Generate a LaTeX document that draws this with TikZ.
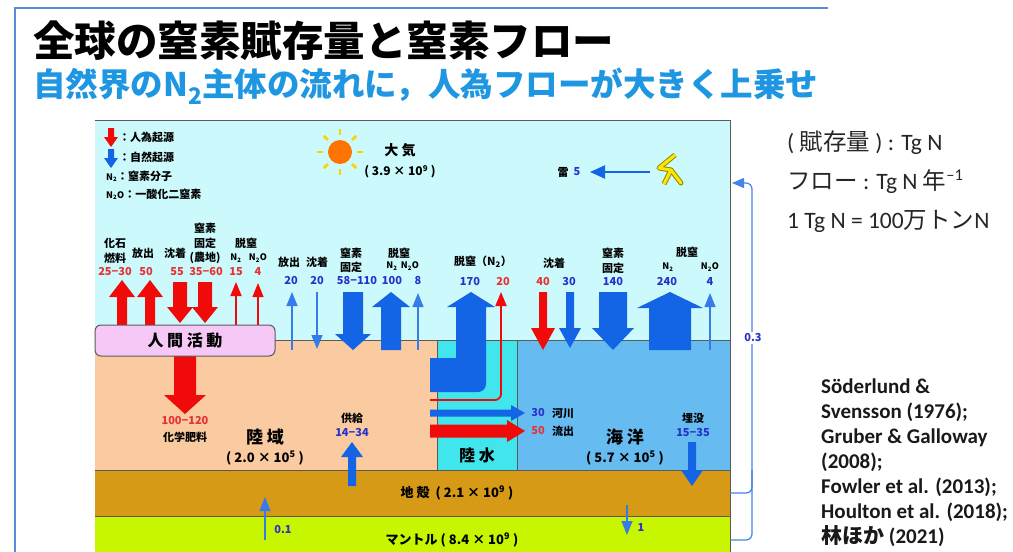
\documentclass[tikz,border=0pt]{standalone}
\usepackage{fontspec}
\setmainfont{Carlito}
\newfontfamily\jp{Noto Sans CJK JP}
\usetikzlibrary{arrows.meta}

\definecolor{airbg}{RGB}{204,250,252}
\definecolor{landbg}{RGB}{250,202,160}
\definecolor{lakebg}{RGB}{64,230,235}
\definecolor{seabg}{RGB}{102,187,240}
\definecolor{crustbg}{RGB}{214,154,22}
\definecolor{mantlebg}{RGB}{200,245,0}
\definecolor{humred}{RGB}{240,10,10}
\definecolor{natblue}{RGB}{20,100,230}
\definecolor{numblue}{RGB}{40,50,200}
\definecolor{numred}{RGB}{230,50,50}
\definecolor{framebl}{RGB}{90,140,215}
\definecolor{subbl}{RGB}{30,150,225}
\definecolor{humpink}{RGB}{245,200,245}
\definecolor{edgegray}{RGB}{90,90,90}

% block arrows: colour, x, tail y, tip y, half shaft, half head, head length
\newcommand{\flowup}[7]{\fill[#1] (#2-#5,#3) -- (#2-#5,#4+#7) -- (#2-#6,#4+#7) -- (#2,#4) -- (#2+#6,#4+#7) -- (#2+#5,#4+#7) -- (#2+#5,#3) -- cycle;}
\newcommand{\flowdown}[7]{\fill[#1] (#2-#5,#3) -- (#2-#5,#4-#7) -- (#2-#6,#4-#7) -- (#2,#4) -- (#2+#6,#4-#7) -- (#2+#5,#4-#7) -- (#2+#5,#3) -- cycle;}
% colour, y, tail x, tip x, half shaft, half head, head length
\newcommand{\flowright}[7]{\fill[#1] (#3,#2-#5) -- (#4-#7,#2-#5) -- (#4-#7,#2-#6) -- (#4,#2) -- (#4-#7,#2+#6) -- (#4-#7,#2+#5) -- (#3,#2+#5) -- cycle;}

\begin{document}
\begin{tikzpicture}[x=1pt,y=-1pt,
    lbl/.style={font=\jp\bfseries\fontsize{11}{12}\selectfont, inner sep=0pt},
    redval/.style={lbl, text=numred},
    blueval/.style={lbl, text=numblue},
    stock/.style={font=\jp\bfseries\fontsize{17}{18}\selectfont, inner sep=0pt},
    stockval/.style={font=\jp\bfseries\fontsize{13}{14}\selectfont, inner sep=0pt},
    thinred/.style={humred, line width=1.6pt, -{Triangle[width=11pt,length=14pt]}},
    thinblue/.style={natblue!85, line width=1.4pt, -{Triangle[width=11pt,length=14pt]}},
    side/.style={anchor=west, inner sep=0pt, text=black!85, font=\fontsize{23.5}{26}\selectfont}]
\useasboundingbox (0,0) rectangle (1013,552);
\fill[white] (0,0) rectangle (1013,552);

% frame and headings
\draw[framebl, line width=1.5pt] (15,552) -- (15,8) -- (828,8);
\node (title) at (33,41) [anchor=west, inner sep=0pt, font=\jp\bfseries\fontsize{41.5}{44}\selectfont] {全球の窒素賦存量と窒素フロー};
\node (subtitle) at (33,86) [anchor=west, inner sep=0pt, text=subbl, font=\jp\bfseries\fontsize{32.5}{34}\selectfont] {自然界のN\textsubscript{2}主体の流れに，人為フローが大きく上乗せ};

% reservoirs
\fill[airbg] (95,120) rectangle (730,340);
\fill[landbg] (95,340) rectangle (437,470);
\fill[lakebg] (437,340) rectangle (517,470);
\fill[seabg] (517,340) rectangle (730,470);
\fill[crustbg] (95,470) rectangle (730,516);
\fill[mantlebg] (95,516) rectangle (730,552);
\draw[edgegray, line width=0.8pt] (95,120) -- (730,120) -- (730,552);
\draw[edgegray, line width=0.8pt] (95,340) -- (730,340);
\draw[edgegray, line width=0.8pt] (95,470) -- (730,470);
\draw[edgegray, line width=0.8pt] (95,516) -- (730,516);
\draw[edgegray, line width=0.8pt] (437,340) -- (437,470);
\draw[edgegray, line width=0.8pt] (517,340) -- (517,470);

% legend
\flowdown{humred}{111}{128}{147}{3}{7}{10}
\flowdown{natblue}{111}{149}{168}{3}{7}{10}
\node (leghum) at (119,137) [lbl, anchor=west] {：人為起源};
\node (legnat) at (119,157) [lbl, anchor=west] {：自然起源};
\node (legn2) at (106,176) [lbl, anchor=west] {\fontsize{9}{10}\selectfont N\textsubscript{2}\fontsize{11}{12}\selectfont：窒素分子};
\node (legn2o) at (106,194) [lbl, anchor=west] {\fontsize{9}{10}\selectfont N\textsubscript{2}O\fontsize{11}{12}\selectfont：一酸化二窒素};

% sun and atmosphere
\fill[orange!90!red] (340,152) circle (12);
\foreach \a in {0,45,...,315}
  \draw[yellow!70!orange, line width=2.5pt] (340,152) ++(\a:17) -- ++(\a:6);
\node (air) at (400,150) [stock, font=\jp\bfseries\fontsize{14}{15}\selectfont] {大 気};
\node (airval) at (400,172) [stockval, font=\jp\bfseries\fontsize{12}{13}\selectfont] {( 3.9 × 10\textsuperscript{9} )};

% lightning
\node (thunder) at (563,172) [lbl] {雷};
\node (thunderv) at (577,172) [blueval] {5};
\draw[natblue, line width=2pt, -{Triangle[width=13pt,length=15pt]}] (650,172) -- (590,172);
\draw[olive, line width=5pt, line join=round] (675,155) -- (659,168) -- (671,170) -- (664,184);
\draw[olive, line width=5pt, line cap=round] (671,170) -- (681,183);
\draw[yellow!90!orange, line width=3pt, line join=round] (675,155) -- (659,168) -- (671,170) -- (664,184);
\draw[yellow!90!orange, line width=3pt, line cap=round] (671,170) -- (681,183);

% anthropogenic flows
\flowup{humred}{122}{330}{280}{5}{13}{17}
\flowup{humred}{150}{330}{280}{5}{13}{17}
\flowdown{humred}{180}{282}{323}{7}{13}{16}
\flowdown{humred}{205}{282}{323}{7}{13}{16}
\draw[thinred] (236,326) -- (236,282);
\draw[thinred, line width=1.2pt] (258,326) -- (258,283);
\flowdown{humred}{185}{350}{414}{11}{21}{19}
\node (human) at (185,340.5) [draw=edgegray, line width=1pt, fill=humpink, rounded corners=6pt, minimum width=180pt, minimum height=31pt, font=\jp\bfseries\fontsize{16}{17}\selectfont] {人 間 活 動};

\node (fossa) at (115,243) [lbl] {化石};
\node (fossb) at (115,258) [lbl] {燃料};
\node (hemit) at (143,253) [lbl] {放出};
\node (hdep) at (175,253) [lbl] {沈着};
\node (hfixa) at (205,228) [lbl] {窒素};
\node (hfixb) at (205,243) [lbl] {固定};
\node (hfixc) at (205,258) [lbl] {(農地)};
\node (hden) at (246,243) [lbl] {脱窒};
\node (hdenn) at (236,258) [lbl, font=\jp\bfseries\fontsize{9}{10}\selectfont] {N\textsubscript{2}};
\node (hdeno) at (258,258) [lbl, font=\jp\bfseries\fontsize{9}{10}\selectfont] {N\textsubscript{2}O};
\node (fossv) at (115,272) [redval] {25−30};
\node (hemitv) at (146,272) [redval] {50};
\node (hdepv) at (177,272) [redval] {55};
\node (hfixv) at (206,272) [redval] {35−60};
\node (hdennv) at (236,272) [redval] {15};
\node (hdenov) at (258,272) [redval] {4};

% natural land flows
\draw[thinblue] (292,350) -- (292,292);
\draw[thinblue] (317,292) -- (317,349);
\flowdown{natblue}{353}{292}{350}{10}{18}{16}
\flowup{natblue}{391}{350}{292}{10}{19}{15}
\draw[thinblue, line width=1.2pt] (418,350) -- (418,293);
\node (lemit) at (289,262) [lbl] {放出};
\node (ldep) at (317,262) [lbl] {沈着};
\node (lfixa) at (351,253) [lbl] {窒素};
\node (lfixb) at (351,267) [lbl] {固定};
\node (lden) at (399,253) [lbl] {脱窒};
\node (ldenn) at (392,266) [lbl, font=\jp\bfseries\fontsize{9}{10}\selectfont] {N\textsubscript{2}};
\node (ldeno) at (410,266) [lbl, font=\jp\bfseries\fontsize{9}{10}\selectfont] {N\textsubscript{2}O};
\node (lemitv) at (291,281) [blueval] {20};
\node (ldepv) at (317,281) [blueval] {20};
\node (lfixv) at (357,281) [blueval] {58−110};
\node (ldennv) at (392,281) [blueval] {100};
\node (ldenov) at (418,281) [blueval] {8};

% inland water
\fill[natblue] (430,358) -- (456,358) -- (456,307) -- (447,307) -- (471,292) -- (495,307) -- (486,307) -- (486,384) arc[start angle=0, end angle=90, radius=8] -- (430,392) -- cycle;
\draw[humred, line width=1.8pt, rounded corners=6pt, -{Triangle[width=11pt,length=14pt]}] (430,400) -- (501,400) -- (501,292);
\flowright{natblue}{413}{430}{525}{3.5}{8}{14}
\flowright{humred}{431}{430}{525}{6.5}{11}{18}
\node (wden) at (483,262) [lbl] {脱窒（N\textsubscript{2}）};
\node (wdenv) at (470,282) [blueval] {170};
\node (wdenh) at (503,282) [redval] {20};
\node (rivb) at (538,413) [blueval] {30};
\node (rivr) at (538,431) [redval] {50};
\node (riva) at (563,413) [lbl] {河川};
\node (rivc) at (563,431) [lbl] {流出};
\node (lake) at (477,455) [stock, font=\jp\bfseries\fontsize{16}{17}\selectfont] {陸 水};

% ocean flows
\flowdown{humred}{543}{292}{350}{4}{12}{22}
\flowdown{natblue}{570}{292}{348}{4}{11}{20}
\flowdown{natblue}{613}{292}{350}{14}{21}{22}
\flowup{natblue}{670}{350}{292}{21}{33}{16}
\draw[thinblue, line width=1.2pt] (710,350) -- (710,293);
\node (odep) at (554,263) [lbl] {沈着};
\node (odepr) at (543,282) [redval] {40};
\node (odepb) at (569,282) [blueval] {30};
\node (ofixa) at (613,253) [lbl] {窒素};
\node (ofixb) at (613,268) [lbl] {固定};
\node (ofixv) at (613,282) [blueval] {140};
\node (oden) at (687,252) [lbl] {脱窒};
\node (odenn) at (668,267) [lbl, font=\jp\bfseries\fontsize{9}{10}\selectfont] {N\textsubscript{2}};
\node (odeno) at (710,267) [lbl, font=\jp\bfseries\fontsize{9}{10}\selectfont] {N\textsubscript{2}O};
\node (odennv) at (667,282) [blueval] {240};
\node (odenov) at (710,282) [blueval] {4};

% land and ocean stocks
\node (fert) at (185,421) [redval] {100−120};
\node (fertl) at (185,437) [lbl] {化学肥料};
\node (land) at (265,437) [stock] {陸 域};
\node (landv) at (265,458) [stockval] {( 2.0 × 10\textsuperscript{5} )};
\flowup{natblue}{352}{486}{442}{4}{11}{15}
\node (supl) at (352,418) [lbl] {供給};
\node (suplv) at (352,433) [blueval] {14−34};
\node (sea) at (625,437) [stock] {海 洋};
\node (seav) at (625,458) [stockval] {( 5.7 × 10\textsuperscript{5} )};
\flowdown{natblue}{692}{442}{486}{4}{11}{16}
\node (burl) at (693,418) [lbl] {埋没};
\node (burlv) at (693,433) [blueval] {15−35};

% crust and mantle
\node (crust) at (457,493) [stockval] {地 殻 \ ( 2.1 × 10\textsuperscript{9} )};
\node (mantle) at (452,540) [stockval] {マントル ( 8.4 × 10\textsuperscript{9} )};
\draw[thinblue] (265,540) -- (265,497);
\node (upv) at (283,530) [blueval] {0.1};
\draw[thinblue, line width=1.2pt] (627,505) -- (627,535);
\node (downv) at (641,528) [blueval] {1};

% return to atmosphere
\draw[natblue!80, line width=1.2pt, rounded corners=6pt, -{Triangle[width=10pt,length=12pt]}] (730,540) -- (752,540) -- (752,183) -- (732,183);
\draw[natblue!80, line width=1.2pt, rounded corners=6pt] (730,493) -- (752,493) -- (752,470);
\node (volc) at (753,338) [blueval, fill=white, inner sep=2pt] {0.3};

% units and sources
\node (unitst) at (787,143) [side] {( {\jp 賦存量} ) : Tg N};
\node (unitfl) at (787,182) [side] {{\jp フロー} : Tg N {\jp 年}\textsuperscript{–1}};
\node (unittg) at (787,221) [side] {1 Tg N = 100{\jp 万トン}N};
\node (refs) at (821,379) [anchor=north west, align=left, inner sep=0pt, text=black!90, font=\bfseries\fontsize{21}{25}\selectfont] {Söderlund \&\\Svensson (1976);\\Gruber \& Galloway\\(2008);\\Fowler et al. (2013);\\Houlton et al. (2018);\\{\jp 林ほか} (2021)};
\end{tikzpicture}
\end{document}
